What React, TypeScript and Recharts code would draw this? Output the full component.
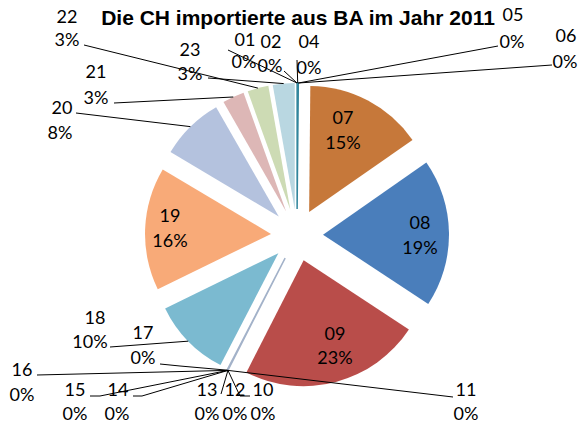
import React from 'react';
import { PieChart, Pie, Cell } from 'recharts';

const title = 'Die CH importierte aus BA im Jahr 2011';
const categories = ['01', '02', '04', '05', '06', '07', '08', '09', '10', '11', '12', '13', '14', '15', '16', '17', '18', '19', '20', '21', '22', '23'];
const shares = [0, 0, 0.15, 0, 0, 15.2, 19.0, 23.3, 0, 0, 0, 0, 0, 0, 0, 0.1, 10.2, 15.8, 8.2, 2.8, 2.7, 2.8];
const colors = ['#4A7EBB', '#BE4B48', '#31859C', '#7D60A0', '#4BACC6', '#C6783A', '#4A7EBB', '#B94D4A', '#98B954', '#7D60A0', '#4BACC6', '#F79646', '#A7C0DE', '#DBA6A5', '#C6D9A9', '#A3B2C9', '#7BBAD0', '#F8AA78', '#B4C2DE', '#DDB7B6', '#CDDBB4', '#B9D7E1'];

// label layout: name centre, percent centre, leader-line start points
const labelLayout: Record<string, { n: [number, number]; p: [number, number]; line?: [number, number][] }> = {
  '01': { n: [245, 40], p: [244, 62], line: [[228, 50]] },
  '02': { n: [271, 42], p: [270, 66], line: [[284, 71]] },
  '04': { n: [309, 42], p: [309, 68], line: [[297, 60]] },
  '05': { n: [513, 15], p: [512, 42], line: [[498, 46]] },
  '06': { n: [566, 36], p: [565, 62], line: [[552, 65]] },
  '07': { n: [343, 118], p: [343, 143] },
  '08': { n: [420, 223], p: [420, 248] },
  '09': { n: [335, 334], p: [335, 358] },
  '10': { n: [263, 390], p: [263, 414], line: [[250, 396], [240, 396]] },
  '11': { n: [466, 390], p: [466, 414], line: [[453, 397]] },
  '12': { n: [235, 390], p: [235, 414], line: [[221, 394]] },
  '13': { n: [207, 390], p: [207, 414] },
  '14': { n: [118, 390], p: [117, 414], line: [[133, 396], [142, 396]] },
  '15': { n: [75, 390], p: [75, 414], line: [[90, 396], [100, 396]] },
  '16': { n: [22, 370], p: [22, 395], line: [[37, 375]] },
  '17': { n: [143, 333], p: [143, 358], line: [[160, 364], [180, 366]] },
  '18': { n: [95, 318], p: [90, 342], line: [[110, 347]] },
  '19': { n: [170, 216], p: [170, 241] },
  '20': { n: [62, 108], p: [60, 133], line: [[76, 113]] },
  '21': { n: [96, 72], p: [96, 98], line: [[114, 103]] },
  '22': { n: [67, 17], p: [67, 40], line: [[84, 45]] },
  '23': { n: [190, 50], p: [190, 74], line: [[208, 78]] },
};

const rows = categories.map((c, i) => ({ name: c, value: shares[i] }));
const total = shares.reduce((a, b) => a + b, 0);

const CX = 297;
const CY = 235;
const R = 126;
const EXPLODE = 26;
const RAD = Math.PI / 180;
const FONT = 'Lato, "Noto Sans", sans-serif';

const offsets = (() => {
  let acc = 0;
  return shares.map((v) => {
    const mid = ((acc + v / 2) / total) * 360;
    acc += v;
    return { dx: EXPLODE * Math.sin(mid * RAD), dy: -EXPLODE * Math.cos(mid * RAD) };
  });
})();

const makeLabel = (k: number) => (props: any) => {
  if (props.index !== k) return null;
  const lay = labelLayout[props.name];
  if (!lay) return null;
  const tip = {
    x: props.cx + Math.cos(-props.midAngle * RAD) * props.outerRadius,
    y: props.cy + Math.sin(-props.midAngle * RAD) * props.outerRadius,
  };
  const pct = Math.round(props.percent * 100) + '%';
  const pts = lay.line ? [...lay.line, [tip.x, tip.y]] : null;
  return (
    <g key={'lbl' + k}>
      {pts && (
        <polyline points={pts.map((p) => p.join(',')).join(' ')} fill="none" stroke="#000" strokeWidth={1} />
      )}
      <text x={lay.n[0]} y={lay.n[1] + 6} textAnchor="middle" fontFamily={FONT} fontSize={18} fill="#000">
        {props.name}
      </text>
      <text x={lay.p[0]} y={lay.p[1] + 6} textAnchor="middle" fontFamily={FONT} fontSize={18} fill="#000">
        {pct}
      </text>
    </g>
  );
};

export default function App() {
  return (
    <div style={{ position: 'absolute', left: 0, top: 0, width: 578, height: 426, background: '#fff' }}>
      <PieChart width={578} height={426} margin={{ top: 0, right: 0, bottom: 0, left: 0 }}>
        {rows.map((_, k) => (
          <Pie
            key={k}
            data={rows}
            dataKey="value"
            nameKey="name"
            cx={CX + offsets[k].dx}
            cy={CY + offsets[k].dy}
            innerRadius={0}
            outerRadius={R}
            startAngle={90}
            endAngle={-270}
            stroke="none"
            isAnimationActive={false}
            labelLine={false}
            label={makeLabel(k)}
          >
            {rows.map((r, i) => (
              <Cell key={i} fill={i === k ? colors[i] : 'none'} stroke={i === k && shares[i] < 1 ? colors[i] : 'none'} strokeWidth={1.5} />
            ))}
          </Pie>
        ))}
      </PieChart>
      <div
        style={{
          position: 'absolute',
          left: 96,
          top: 6,
          width: 404,
          height: 24,
          background: '#fff',
          textAlign: 'center',
          fontFamily: '"Liberation Sans", Arial, sans-serif',
          fontWeight: 'bold',
          fontSize: 21,
          lineHeight: '24px',
          color: '#000',
          whiteSpace: 'nowrap',
        }}
      >
        {title}
      </div>
    </div>
  );
}
